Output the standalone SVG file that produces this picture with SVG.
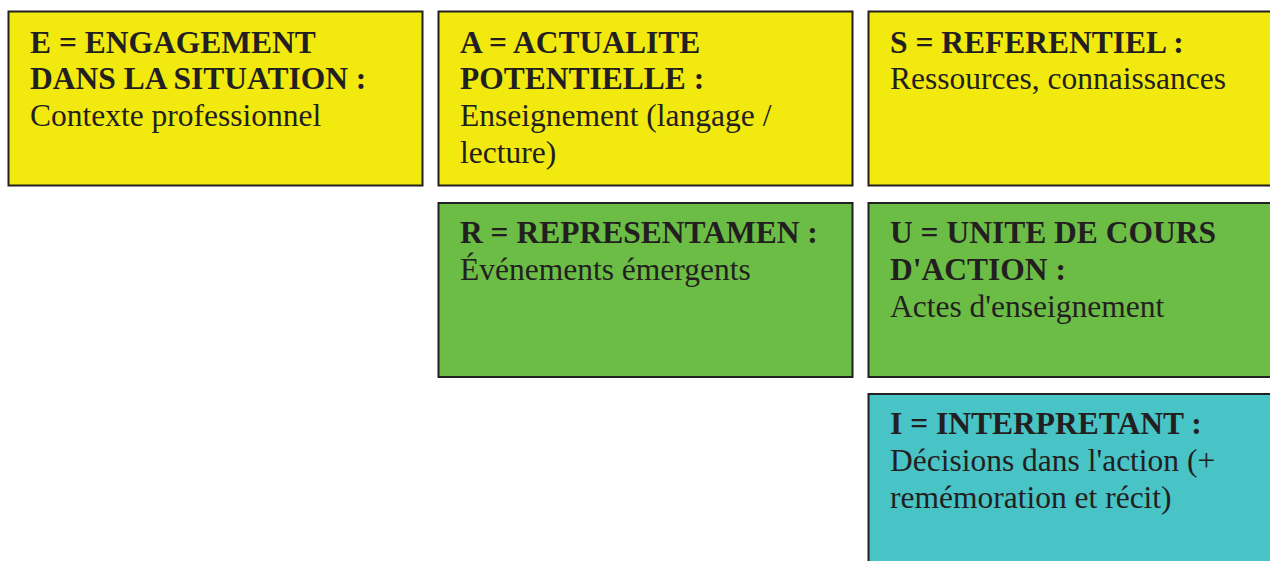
<svg xmlns="http://www.w3.org/2000/svg" width="1270" height="561" viewBox="0 0 1270 561">
<style>
.box{stroke:#231f20;stroke-width:2}
.y{fill:#f2e90f}
.g{fill:#6bbd45}
.t{fill:#48c3c6}
text{font-family:"Liberation Serif","Times New Roman",serif;font-size:31.5px;fill:#231f20}
.b{font-weight:bold}
</style>
<rect width="1270" height="561" fill="#ffffff"/>
<g id="node-E">
<rect class="box y" x="8.5" y="11.5" width="414" height="174"/>
<text x="30" y="53" class="b">E = ENGAGEMENT</text>
<text x="30" y="89" class="b">DANS LA SITUATION :</text>
<text x="30" y="126">Contexte professionnel</text>
</g>
<g id="node-A">
<rect class="box y" x="438.5" y="11.5" width="414" height="174"/>
<text x="460" y="53" class="b">A = ACTUALITE</text>
<text x="460" y="89" class="b">POTENTIELLE :</text>
<text x="460" y="126">Enseignement (langage /</text>
<text x="460" y="163">lecture)</text>
</g>
<g id="node-S">
<rect class="box y" x="868.5" y="11.5" width="414" height="174"/>
<text x="890" y="53" class="b">S = REFERENTIEL :</text>
<text x="890" y="89">Ressources, connaissances</text>
</g>
<g id="node-R">
<rect class="box g" x="438.5" y="203" width="414" height="174"/>
<text x="460" y="243" class="b">R = REPRESENTAMEN :</text>
<text x="460" y="280">Événements émergents</text>
</g>
<g id="node-U">
<rect class="box g" x="868.5" y="203" width="414" height="174"/>
<text x="890" y="243" class="b">U = UNITE DE COURS</text>
<text x="890" y="280" class="b">D'ACTION :</text>
<text x="890" y="317">Actes d'enseignement</text>
</g>
<g id="node-I">
<rect class="box t" x="868.5" y="394" width="414" height="174"/>
<text x="890" y="434" class="b">I = INTERPRETANT :</text>
<text x="890" y="471">Décisions dans l'action (+</text>
<text x="890" y="508">remémoration et récit)</text>
</g>
<g id="connectors"></g>
</svg>
